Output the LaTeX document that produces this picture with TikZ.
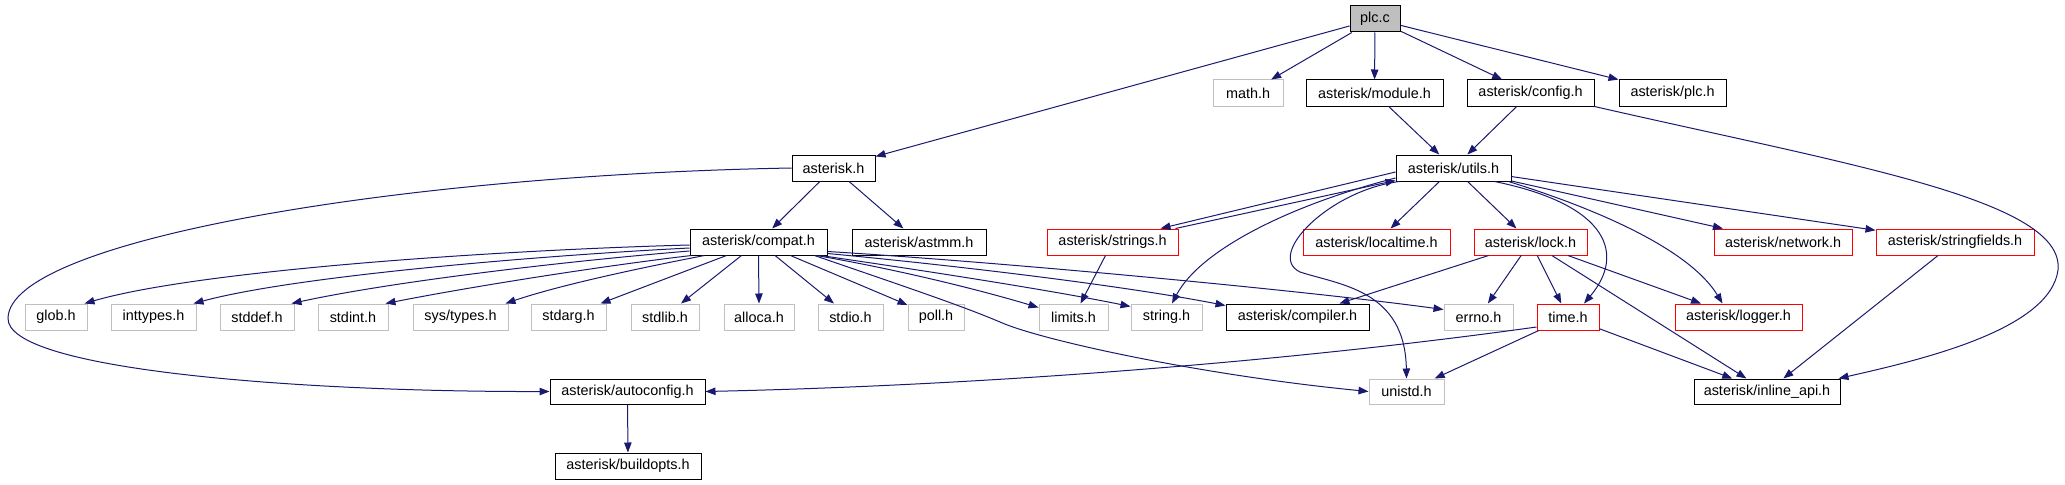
\documentclass[tikz,border=0pt]{standalone}
\usepackage{fontspec}
\setmainfont{Liberation Sans}
\usetikzlibrary{arrows.meta}
\definecolor{edgec}{HTML}{191970}
\definecolor{grayb}{HTML}{BFBFBF}
\newcommand\mkbox[7]{\node[#6, minimum width={(#3-#2)*0.75pt}, minimum height={(#5-#4)*0.75pt}] (#1) at ({(#2+#3)/2},{(#4+#5)/2}) {#7};}
\begin{document}
\begin{tikzpicture}[x=0.75pt,y=-0.75pt,
 box/.style={draw=black, line width=0.75pt, fill=white, inner sep=0pt, font=\fontsize{10.8}{12}\selectfont, text=black},
 doc/.style={box},
 sys/.style={box, draw=grayb},
 trunc/.style={box, draw=red},
 root/.style={box, fill=grayb},
 e/.style={draw=edgec, line width=0.75pt, -{Triangle[length=7.5pt,width=5.6pt]}}]
\useasboundingbox (0,0) rectangle (2065,485);
% row 0
\mkbox{plcc}{1350}{1400}{6}{32}{root}{plc.c}
% row 1
\mkbox{math}{1213}{1283}{80}{106}{sys}{math.h}
\mkbox{module}{1306}{1443}{80}{106}{doc}{asterisk/module.h}
\mkbox{config}{1467}{1594}{80}{106}{doc}{asterisk/config.h}
\mkbox{plch}{1619}{1726}{80}{106}{doc}{asterisk/plc.h}
% row 2
\mkbox{asth}{792}{875}{155}{181}{doc}{asterisk.h}
\mkbox{utils}{1396}{1511}{155}{181}{doc}{asterisk/utils.h}
% row 3
\mkbox{compat}{690}{827}{229}{255}{doc}{asterisk/compat.h}
\mkbox{astmm}{852}{986}{229}{255}{doc}{asterisk/astmm.h}
\mkbox{strings}{1047}{1178}{229}{255}{trunc}{asterisk/strings.h}
\mkbox{localtime}{1303}{1450}{229}{255}{trunc}{asterisk/localtime.h}
\mkbox{lock}{1474}{1587}{229}{255}{trunc}{asterisk/lock.h}
\mkbox{network}{1714}{1852}{229}{255}{trunc}{asterisk/network.h}
\mkbox{stringfields}{1876}{2034}{229}{255}{trunc}{asterisk/stringfields.h}
% row 4
\mkbox{glob}{25}{87}{304}{330}{sys}{glob.h}
\mkbox{inttypes}{111}{196}{304}{330}{sys}{inttypes.h}
\mkbox{stddef}{220}{294}{304}{330}{sys}{stddef.h}
\mkbox{stdint}{318}{388}{304}{330}{sys}{stdint.h}
\mkbox{systypes}{413}{508}{304}{330}{sys}{sys/types.h}
\mkbox{stdarg}{531}{606}{304}{330}{sys}{stdarg.h}
\mkbox{stdlib}{631}{699}{304}{330}{sys}{stdlib.h}
\mkbox{alloca}{724}{794}{304}{330}{sys}{alloca.h}
\mkbox{stdio}{818}{883}{304}{330}{sys}{stdio.h}
\mkbox{poll}{908}{964}{304}{330}{sys}{poll.h}
\mkbox{limits}{1039}{1108}{304}{330}{sys}{limits.h}
\mkbox{string}{1131}{1202}{304}{330}{sys}{string.h}
\mkbox{compiler}{1226}{1369}{304}{330}{doc}{asterisk/compiler.h}
\mkbox{errno}{1444}{1513}{304}{330}{sys}{errno.h}
\mkbox{time}{1537}{1599}{304}{330}{trunc}{time.h}
\mkbox{logger}{1675}{1802}{304}{330}{trunc}{asterisk/logger.h}
% row 5
\mkbox{autoconfig}{550}{705}{379}{404}{doc}{asterisk/autoconfig.h}
\mkbox{unistd}{1369}{1444}{379}{404}{sys}{unistd.h}
\mkbox{inlineapi}{1694}{1840}{379}{404}{doc}{asterisk/inline\_api.h}
% row 6
\mkbox{buildopts}{555}{701}{453}{479}{doc}{asterisk/buildopts.h}

% edges from plc.c
\draw[e] (plcc) -- (asth);
\draw[e] (plcc) -- (math);
\draw[e] (plcc) -- (module);
\draw[e] (plcc) -- (config);
\draw[e] (plcc) -- (plch);
\draw[e] (module) -- (utils);
\draw[e] (config) -- (utils);
\draw[e] (config.south east) .. controls (1850,165) and (2065,200) .. (2058,270)
  .. controls (2050,330) and (1920,360) .. ([shift={(-2,0)}]inlineapi.north east);
% asterisk.h
\draw[e] (asth) -- (compat);
\draw[e] (asth) -- (astmm);
\draw[e] (asth.west) .. controls (400,175) and (10,240) .. (8,318)
  .. controls (6,370) and (300,392) .. (autoconfig.west);
\draw[e] (autoconfig) -- (buildopts);
% compat.h fan
\draw[e] ([shift={(0,3)}]compat.west) .. controls (500,250) and (200,270) .. ([shift={(-3,0)}]glob.north east);
\draw[e] ([shift={(0,6)}]compat.west) .. controls (550,255) and (300,275) .. ([shift={(-3,0)}]inttypes.north east);
\draw[e] ([shift={(0,9)}]compat.west) .. controls (580,260) and (400,280) .. ([shift={(-3,0)}]stddef.north east);
\draw[e] ([shift={(2,0)}]compat.south west) .. controls (610,265) and (480,285) .. ([shift={(-3,0)}]stdint.north east);
\draw[e] ([shift={(15,0)}]compat.south west) .. controls (640,268) and (560,285) .. ([shift={(-3,0)}]systypes.north east);
\draw[e] ([shift={(37,0)}]compat.south west) -- ([shift={(-6,0)}]stdarg.north east);
\draw[e] ([shift={(52,0)}]compat.south west) -- ([shift={(16,0)}]stdlib.north);
\draw[e] (compat.south) -- (alloca.north);
\draw[e] (compat) -- (stdio);
\draw[e] (compat) -- (poll);
\draw[e] ([shift={(-11,0)}]compat.south east) .. controls (900,270) and (980,290) .. ([shift={(0,4)}]limits.north west);
\draw[e] ([shift={(-7,0)}]compat.south east) .. controls (920,270) and (1050,290) .. ([shift={(0,3)}]string.north west);
\draw[e] ([shift={(0,-2)}]compat.south east) .. controls (950,265) and (1120,285) .. ([shift={(0,2)}]compiler.north west);
\draw[e] ([shift={(0,-4)}]compat.south east) .. controls (1000,262) and (1300,290) .. ([shift={(0,6)}]errno.north west);
\draw[e] ([shift={(-13,0)}]compat.south east) .. controls (900,285) and (960,305) .. (1000,322)
  .. controls (1040,340) and (1200,375) .. (unistd.west);
% utils.h
\draw[e] ([shift={(0,4)}]utils.west) -- ([shift={(-18,0)}]strings.north east);
\draw[e] ([shift={(-3,0)}]strings.north east) -- ([shift={(0,-1)}]utils.south west);
\draw[e] ([shift={(0,10)}]utils.west) .. controls (1290,205) and (1200,250) .. ([shift={(5.5,0)}]string.north);
\draw[e] ([shift={(4,0)}]utils.south west) .. controls (1330,190) and (1265,255) .. (1300,272)
  .. controls (1340,285) and (1405,290) .. (unistd.north);
\draw[e] (utils) -- (localtime);
\draw[e] (utils) -- (lock);
\draw[e] ([shift={(-17,0)}]utils.south east) .. controls (1610,205) and (1625,255) .. ([shift={(16,0)}]time.north);
\draw[e] ([shift={(-3,0)}]utils.south east) .. controls (1600,210) and (1690,250) .. ([shift={(-16,0)}]logger.north);
\draw[e] (utils) -- (network);
\draw[e] (utils) -- (stringfields);
% strings.h
\draw[e] (strings) -- (limits);
% lock.h
\draw[e] (lock) -- (compiler);
\draw[e] (lock) -- (errno);
\draw[e] (lock) -- (time);
\draw[e] (lock) -- (logger);
\draw[e] (lock) -- (inlineapi);
% time.h
\draw[e] (time) -- (inlineapi);
\draw[e] (time) -- (unistd);
\draw[e] ([shift={(0,10)}]time.west) .. controls (1300,360) and (1000,385) .. (autoconfig.east);
% stringfields
\draw[e] (stringfields) -- (inlineapi);
\end{tikzpicture}
\end{document}
